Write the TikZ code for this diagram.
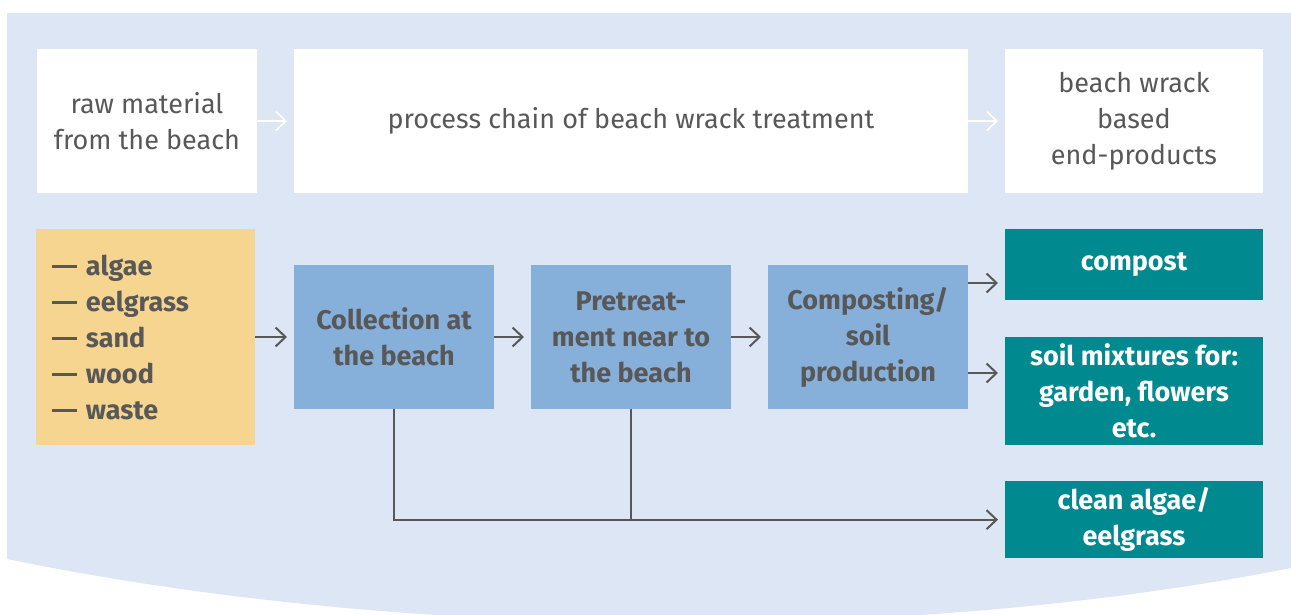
\documentclass[tikz,border=0pt]{standalone}
\usepackage{fontspec}
\setmainfont{Fira Sans}
\usepackage{xcolor}
\usetikzlibrary{arrows.meta, positioning, calc}

\definecolor{wrackbg}{HTML}{DDE6F4}
\definecolor{rawyellow}{HTML}{F6D590}
\definecolor{stepblue}{HTML}{86AFDA}
\definecolor{endteal}{HTML}{00898F}
\definecolor{textgray}{HTML}{585858}

\newcommand{\wrackdash}{\rule[0.27em]{12.5pt}{1.3pt}\hspace{4.5pt}}

\begin{document}
\begin{tikzpicture}[
   x=0.5pt, y=-0.5pt,
   every node/.style = {outer sep=0pt},
   headbox/.style = {fill=white, minimum height=72pt, align=center, text=textgray, font=\fontsize{13.5}{18}\selectfont},
   rawbox/.style = {fill=rawyellow, minimum width=109.5pt, minimum height=108pt, inner xsep=8pt, text width=93.5pt, align=left, text=textgray, font=\fontsize{13.5}{18}\selectfont\bfseries},
   stepbox/.style = {fill=stepblue, minimum width=100pt, minimum height=72pt, align=center, text=textgray, font=\fontsize{13.5}{18}\selectfont\bfseries},
   endbox/.style = {fill=endteal, minimum width=129pt, align=center, text=white, font=\fontsize{13.5}{18}\selectfont\bfseries},
   line/.style = {draw, -{Straight Barb[length=5pt,width=9.5pt]}, line width=1pt, textgray, shorten >=3.5pt},
   plain/.style = {draw, line width=1pt, textgray},
   whiteline/.style = {draw, -{Straight Barb[length=5pt,width=9.5pt]}, line width=0.8pt, white, shorten >=3.5pt}
   ]
  \useasboundingbox (0,0) rectangle (1291,615);
  % background panel
  \fill[wrackbg] (7,13) -- (1291,13) -- (1291,568) .. controls (900,645) and (400,640) .. (7,559) -- cycle;

  % header row
  \node[headbox, minimum width=110pt] (raw) at (147,121)
   {raw material\\from the beach};
  \node[headbox, minimum width=337pt, right=18.5pt of raw] (chain)
   {process chain of beach wrack treatment};
  \node[headbox, minimum width=129pt, right=18.5pt of chain] (endprod)
   {beach wrack\\based\\end-products};

  % raw material
  \node[rawbox, below=18pt of raw, xshift=-0.75pt] (material)
   {\wrackdash algae\\\wrackdash eelgrass\\\wrackdash sand\\\wrackdash wood\\\wrackdash waste};

  % process steps
  \node[stepbox, right=19.5pt of material] (collect)
   {Collection at\\the beach};
  \node[stepbox, right=18.5pt of collect] (pretreat)
   {Pretreat-\\ment near to\\the beach};
  \node[stepbox, right=18.5pt of pretreat] (composting)
   {Composting/\\soil\\production};

  % end-products
  \node[endbox, minimum height=35.5pt, below=18pt of endprod] (compost)
   {compost};
  \node[endbox, minimum height=54pt, below=18.5pt of compost] (soil)
   {soil mixtures for:\\garden, flowers\\etc.};
  \node[endbox, minimum height=36pt, below=18pt of soil] (clean)
   {clean algae/\\eelgrass};

  % arrows
  \draw[whiteline] (raw) -- (chain);
  \draw[whiteline] (chain) -- (endprod);
  \draw[line] (material) -- (collect);
  \draw[line] (collect) -- (pretreat);
  \draw[line] (pretreat) -- (composting);
  \coordinate (out1) at ([yshift=-9pt]composting.north east);
  \coordinate (out2) at ([yshift=18pt]composting.south east);
  \draw[line] (out1) -- (out1 -| compost.west);
  \draw[line] (out2) -- (out2 -| soil.west);
  \draw[line] (collect.south) |- (clean.west);
  \draw[plain] (pretreat.south) -- (pretreat.south |- clean.west);
\end{tikzpicture}
\end{document}
